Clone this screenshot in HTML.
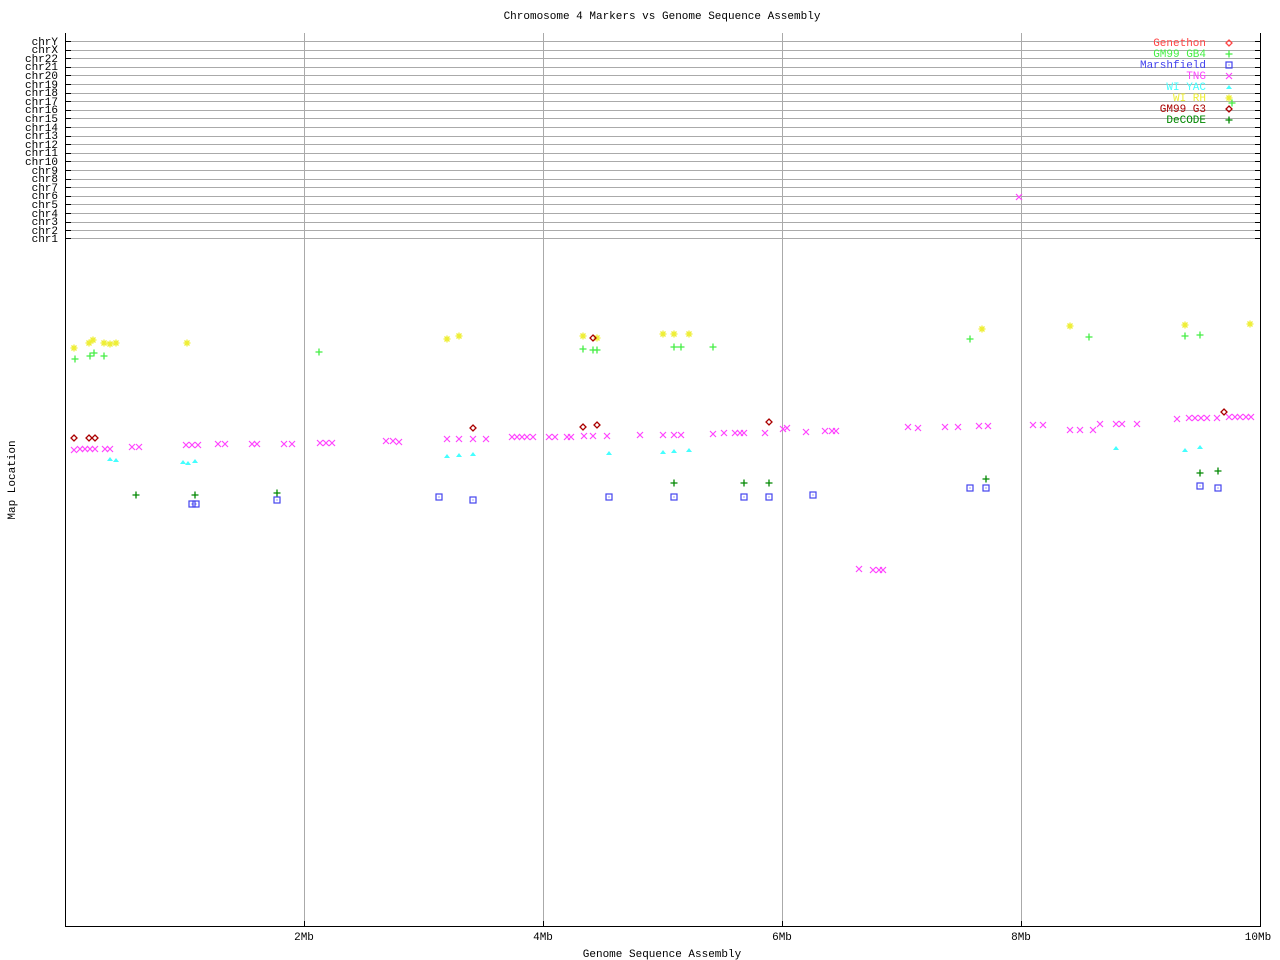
<!DOCTYPE html>
<html><head><style>body{margin:0;background:#fff}svg{display:block}text{font-family:"Liberation Mono",monospace;font-size:11px}</style></head><body>
<svg width="1280" height="960" xmlns="http://www.w3.org/2000/svg">
<defs>
<g id="x" stroke="#f4f" stroke-width="1.2" fill="none"><path d="M-3,-3L3,3M-3,3L3,-3"/></g>
<g id="p" stroke="#4e4" stroke-width="1.3"><path d="M-3.5,0H3.5M0,-3.5V3.5"/></g>
<g id="d" stroke="#080" stroke-width="1.3"><path d="M-3.5,0H3.5M0,-3.5V3.5"/></g>
<g id="s"><rect x="-3" y="-3" width="6" height="6" fill="none" stroke="#44e" stroke-width="1.2"/><rect x="-0.5" y="-0.5" width="1" height="1" fill="#44e"/></g>
<g id="t"><path d="M-3,2L0,-2L3,2Z" fill="#4ff"/></g>
<g id="r" stroke="#ee3" stroke-width="1.3"><path d="M-3.5,0H3.5M0,-3.5V3.5M-2.5,-2.5L2.5,2.5M-2.5,2.5L2.5,-2.5"/></g>
<g id="g"><path d="M0,-3L3,0L0,3L-3,0Z" fill="none" stroke="#a00" stroke-width="1.3"/></g>
<g id="e"><path d="M0,-3L3,0L0,3L-3,0Z" fill="none" stroke="#f44" stroke-width="1.3"/></g>
</defs>
<text x="662" y="19" text-anchor="middle">Chromosome 4 Markers vs Genome Sequence Assembly</text>
<g stroke="#aaa" stroke-width="1">
<line x1="304.5" y1="33" x2="304.5" y2="927"/><line x1="543.5" y1="33" x2="543.5" y2="927"/><line x1="782.5" y1="33" x2="782.5" y2="927"/><line x1="1021.5" y1="33" x2="1021.5" y2="927"/>
</g>
<g stroke="#aaa">
<line x1="70" x2="1255" y1="41.5" y2="41.5"/><line x1="70" x2="1255" y1="50.5" y2="50.5"/><line x1="70" x2="1255" y1="58.5" y2="58.5"/><line x1="70" x2="1255" y1="67.5" y2="67.5"/><line x1="70" x2="1255" y1="75.5" y2="75.5"/><line x1="70" x2="1255" y1="84.5" y2="84.5"/><line x1="70" x2="1255" y1="93.5" y2="93.5"/><line x1="70" x2="1255" y1="101.5" y2="101.5"/><line x1="70" x2="1255" y1="110.5" y2="110.5"/><line x1="70" x2="1255" y1="118.5" y2="118.5"/><line x1="70" x2="1255" y1="127.5" y2="127.5"/><line x1="70" x2="1255" y1="136.5" y2="136.5"/><line x1="70" x2="1255" y1="144.5" y2="144.5"/><line x1="70" x2="1255" y1="153.5" y2="153.5"/><line x1="70" x2="1255" y1="161.5" y2="161.5"/><line x1="70" x2="1255" y1="170.5" y2="170.5"/><line x1="70" x2="1255" y1="179.5" y2="179.5"/><line x1="70" x2="1255" y1="187.5" y2="187.5"/><line x1="70" x2="1255" y1="196.5" y2="196.5"/><line x1="70" x2="1255" y1="204.5" y2="204.5"/><line x1="70" x2="1255" y1="213.5" y2="213.5"/><line x1="70" x2="1255" y1="222.5" y2="222.5"/><line x1="70" x2="1255" y1="230.5" y2="230.5"/><line x1="70" x2="1255" y1="238.5" y2="238.5"/>
</g>
<g stroke="#000">
<line x1="65.5" y1="33" x2="65.5" y2="927"/><line x1="1260.5" y1="33" x2="1260.5" y2="927"/><line x1="65" y1="926.5" x2="1261" y2="926.5"/>
<line x1="304.5" y1="921" x2="304.5" y2="926"/><line x1="543.5" y1="921" x2="543.5" y2="926"/><line x1="782.5" y1="921" x2="782.5" y2="926"/><line x1="1021.5" y1="921" x2="1021.5" y2="926"/>
<path d="M66,41.5h5M66,50.5h5M66,58.5h5M66,67.5h5M66,75.5h5M66,84.5h5M66,93.5h5M66,101.5h5M66,110.5h5M66,118.5h5M66,127.5h5M66,136.5h5M66,144.5h5M66,153.5h5M66,161.5h5M66,170.5h5M66,179.5h5M66,187.5h5M66,196.5h5M66,204.5h5M66,213.5h5M66,222.5h5M66,230.5h5M66,238.5h5"/>
<path d="M1255,41.5h5M1255,50.5h5M1255,58.5h5M1255,67.5h5M1255,75.5h5M1255,84.5h5M1255,93.5h5M1255,101.5h5M1255,110.5h5M1255,118.5h5M1255,127.5h5M1255,136.5h5M1255,144.5h5M1255,153.5h5M1255,161.5h5M1255,170.5h5M1255,179.5h5M1255,187.5h5M1255,196.5h5M1255,204.5h5M1255,213.5h5M1255,222.5h5M1255,230.5h5M1255,238.5h5"/>
</g>
<g text-anchor="end">
<text x="58" y="45">chrY</text><text x="58" y="53">chrX</text><text x="58" y="62">chr22</text><text x="58" y="70">chr21</text><text x="58" y="79">chr20</text><text x="58" y="88">chr19</text><text x="58" y="96">chr18</text><text x="58" y="105">chr17</text><text x="58" y="113">chr16</text><text x="58" y="122">chr15</text><text x="58" y="131">chr14</text><text x="58" y="139">chr13</text><text x="58" y="148">chr12</text><text x="58" y="156">chr11</text><text x="58" y="165">chr10</text><text x="58" y="174">chr9</text><text x="58" y="182">chr8</text><text x="58" y="191">chr7</text><text x="58" y="199">chr6</text><text x="58" y="208">chr5</text><text x="58" y="217">chr4</text><text x="58" y="225">chr3</text><text x="58" y="234">chr2</text><text x="58" y="242">chr1</text>
<text x="1206" y="46" fill="#f44">Genethon</text><text x="1206" y="57" fill="#4e4">GM99 GB4</text><text x="1206" y="68" fill="#44e">Marshfield</text><text x="1206" y="79" fill="#f4f">TNG</text><text x="1206" y="90" fill="#4ff">WI YAC</text><text x="1206" y="101" fill="#ee3">WI RH</text><text x="1206" y="112" fill="#a00">GM99 G3</text><text x="1206" y="123" fill="#080">DeCODE</text>
</g>
<g text-anchor="middle">
<text x="304" y="940">2Mb</text><text x="543" y="940">4Mb</text><text x="782" y="940">6Mb</text><text x="1021" y="940">8Mb</text><text x="1258" y="940">10Mb</text>
<text x="662" y="957">Genome Sequence Assembly</text>
<text transform="translate(15,480) rotate(-90)">Map Location</text>
</g>
<use href="#e" x="1229" y="43"/><use href="#p" x="1229" y="54"/><use href="#s" x="1229" y="65"/><use href="#x" x="1229" y="76"/><use href="#t" x="1229" y="87"/><use href="#r" x="1229" y="98"/><use href="#p" x="1232" y="103"/><use href="#g" x="1229" y="109"/><use href="#d" x="1229" y="120"/>
<use href="#x" x="1019" y="197"/>
<g>
<use href="#r" x="74" y="348"/><use href="#r" x="89" y="343"/><use href="#r" x="93" y="340"/><use href="#r" x="104" y="343"/><use href="#r" x="110" y="344"/><use href="#r" x="116" y="343"/><use href="#r" x="187" y="343"/><use href="#r" x="447" y="339"/><use href="#r" x="459" y="336"/><use href="#r" x="583" y="336"/><use href="#r" x="597" y="338"/><use href="#r" x="663" y="334"/><use href="#r" x="674" y="334"/><use href="#r" x="689" y="334"/><use href="#r" x="982" y="329"/><use href="#r" x="1070" y="326"/><use href="#r" x="1185" y="325"/><use href="#r" x="1250" y="324"/>
<use href="#p" x="75" y="359"/><use href="#p" x="90" y="356"/><use href="#p" x="94" y="353"/><use href="#p" x="104" y="356"/><use href="#p" x="319" y="352"/><use href="#p" x="583" y="349"/><use href="#p" x="593" y="350"/><use href="#p" x="597" y="350"/><use href="#p" x="674" y="347"/><use href="#p" x="681" y="347"/><use href="#p" x="713" y="347"/><use href="#p" x="970" y="339"/><use href="#p" x="1089" y="337"/><use href="#p" x="1185" y="336"/><use href="#p" x="1200" y="335"/>
<use href="#g" x="74" y="438"/><use href="#g" x="89" y="438"/><use href="#g" x="95" y="438"/><use href="#g" x="473" y="428"/><use href="#g" x="593" y="338"/><use href="#g" x="769" y="422"/><use href="#g" x="583" y="427"/><use href="#g" x="597" y="425"/><use href="#g" x="1224" y="412"/>
<use href="#x" x="74" y="450"/><use href="#x" x="80" y="449"/><use href="#x" x="85" y="449"/><use href="#x" x="90" y="449"/><use href="#x" x="95" y="449"/><use href="#x" x="105" y="449"/><use href="#x" x="110" y="449"/><use href="#x" x="132" y="447"/><use href="#x" x="139" y="447"/><use href="#x" x="186" y="445"/><use href="#x" x="192" y="445"/><use href="#x" x="198" y="445"/><use href="#x" x="218" y="444"/><use href="#x" x="225" y="444"/><use href="#x" x="252" y="444"/><use href="#x" x="257" y="444"/><use href="#x" x="284" y="444"/><use href="#x" x="292" y="444"/><use href="#x" x="320" y="443"/><use href="#x" x="326" y="443"/><use href="#x" x="332" y="443"/><use href="#x" x="386" y="441"/><use href="#x" x="393" y="441"/><use href="#x" x="399" y="442"/><use href="#x" x="447" y="439"/><use href="#x" x="459" y="439"/><use href="#x" x="473" y="439"/><use href="#x" x="486" y="439"/><use href="#x" x="512" y="437"/><use href="#x" x="517" y="437"/><use href="#x" x="522" y="437"/><use href="#x" x="527" y="437"/><use href="#x" x="533" y="437"/><use href="#x" x="549" y="437"/><use href="#x" x="555" y="437"/><use href="#x" x="567" y="437"/><use href="#x" x="571" y="437"/><use href="#x" x="584" y="436"/><use href="#x" x="593" y="436"/><use href="#x" x="607" y="436"/><use href="#x" x="640" y="435"/><use href="#x" x="663" y="435"/><use href="#x" x="674" y="435"/><use href="#x" x="681" y="435"/><use href="#x" x="713" y="434"/><use href="#x" x="724" y="433"/><use href="#x" x="735" y="433"/><use href="#x" x="740" y="433"/><use href="#x" x="744" y="433"/><use href="#x" x="765" y="433"/><use href="#x" x="783" y="429"/><use href="#x" x="787" y="428"/><use href="#x" x="806" y="432"/><use href="#x" x="825" y="431"/><use href="#x" x="832" y="431"/><use href="#x" x="836" y="431"/><use href="#x" x="908" y="427"/><use href="#x" x="918" y="428"/><use href="#x" x="945" y="427"/><use href="#x" x="958" y="427"/><use href="#x" x="979" y="426"/><use href="#x" x="988" y="426"/><use href="#x" x="1033" y="425"/><use href="#x" x="1043" y="425"/><use href="#x" x="1070" y="430"/><use href="#x" x="1080" y="430"/><use href="#x" x="1093" y="430"/><use href="#x" x="1100" y="424"/><use href="#x" x="1116" y="424"/><use href="#x" x="1122" y="424"/><use href="#x" x="1137" y="424"/><use href="#x" x="1177" y="419"/><use href="#x" x="1189" y="418"/><use href="#x" x="1195" y="418"/><use href="#x" x="1201" y="418"/><use href="#x" x="1207" y="418"/><use href="#x" x="1217" y="418"/><use href="#x" x="1229" y="417"/><use href="#x" x="1235" y="417"/><use href="#x" x="1240" y="417"/><use href="#x" x="1246" y="417"/><use href="#x" x="1251" y="417"/><use href="#x" x="859" y="569"/><use href="#x" x="873" y="570"/><use href="#x" x="879" y="570"/><use href="#x" x="883" y="570"/>
<use href="#t" x="110" y="459"/><use href="#t" x="116" y="460"/><use href="#t" x="183" y="462"/><use href="#t" x="188" y="463"/><use href="#t" x="195" y="461"/><use href="#t" x="447" y="456"/><use href="#t" x="459" y="455"/><use href="#t" x="473" y="454"/><use href="#t" x="609" y="453"/><use href="#t" x="663" y="452"/><use href="#t" x="674" y="451"/><use href="#t" x="689" y="450"/><use href="#t" x="1116" y="448"/><use href="#t" x="1185" y="450"/><use href="#t" x="1200" y="447"/>
<use href="#d" x="136" y="495"/><use href="#d" x="195" y="495"/><use href="#d" x="277" y="493"/><use href="#d" x="674" y="483"/><use href="#d" x="744" y="483"/><use href="#d" x="769" y="483"/><use href="#d" x="986" y="479"/><use href="#d" x="1200" y="473"/><use href="#d" x="1218" y="471"/>
<use href="#s" x="192" y="504"/><use href="#s" x="196" y="504"/><use href="#s" x="277" y="500"/><use href="#s" x="439" y="497"/><use href="#s" x="473" y="500"/><use href="#s" x="609" y="497"/><use href="#s" x="674" y="497"/><use href="#s" x="744" y="497"/><use href="#s" x="769" y="497"/><use href="#s" x="813" y="495"/><use href="#s" x="970" y="488"/><use href="#s" x="986" y="488"/><use href="#s" x="1200" y="486"/><use href="#s" x="1218" y="488"/>
</g>
</svg>
</body></html>
